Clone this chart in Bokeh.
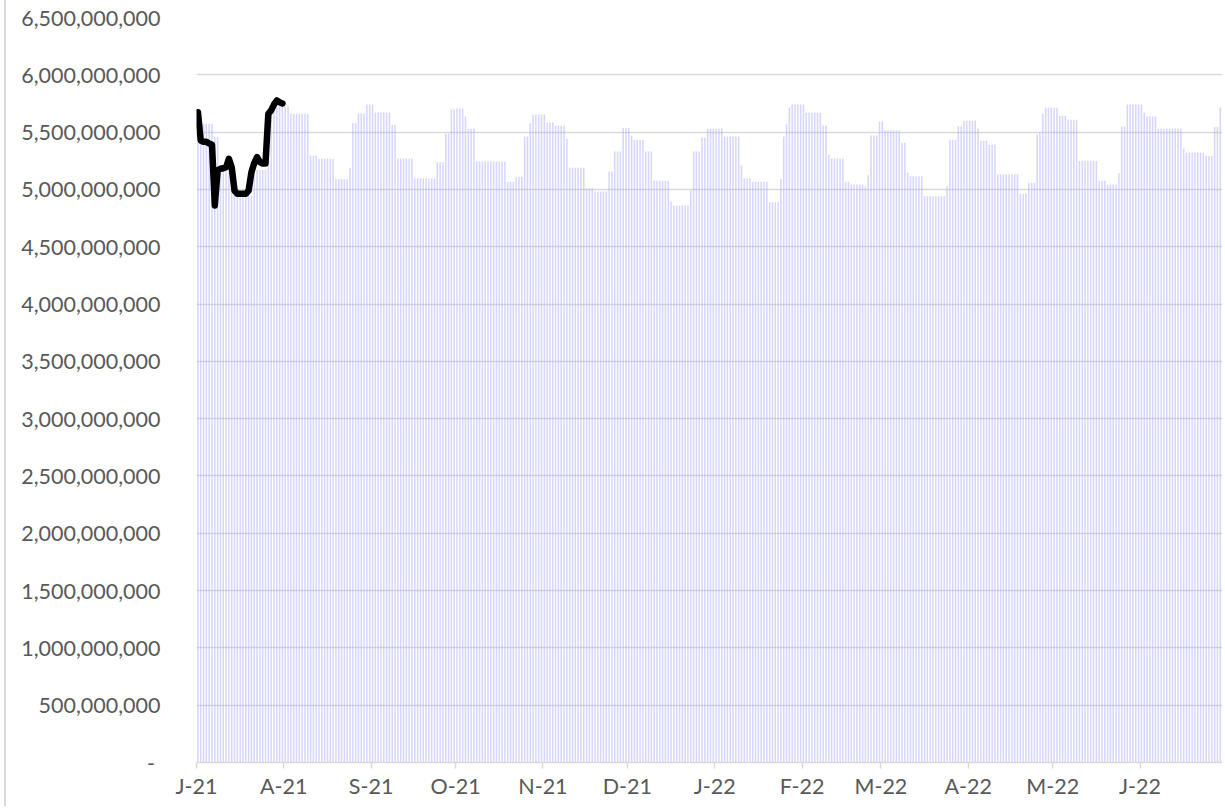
import numpy as np
import pandas as pd
from bokeh.plotting import figure
from bokeh.models import FixedTicker, NumeralTickFormatter, ColumnDataSource
from bokeh.embed import file_html
from bokeh.resources import INLINE

# ---------------- data (values in millions) ----------------
start_date = "2021-07-01"

jul_21 = [5572, 5572, 5572, 5572, 5572, 5572, 5456, 5456, 5190, 5190, 5190, 5190, 5190,
          4945, 4945, 4945, 4945, 4945, 4945, 4945, 5170, 5170, 5170, 5170, 5170,
          5660, 5660, 5724, 5724, 5724, 5724]
aug_21 = [5724, 5724, 5660, 5660, 5660, 5660, 5660, 5660, 5660, 5296, 5296, 5296,
          5267, 5267, 5267, 5267, 5267, 5267, 5089, 5089, 5089, 5089, 5089, 5189,
          5578, 5578, 5662, 5662, 5662, 5741, 5741]
sep_21 = [5741, 5671, 5671, 5671, 5671, 5671, 5671, 5561, 5561, 5270, 5270, 5270,
          5270, 5270, 5270, 5095, 5095, 5095, 5095, 5095, 5095, 5095, 5095, 5238,
          5238, 5238, 5485, 5485, 5700, 5700]
oct_21 = [5706, 5706, 5706, 5636, 5529, 5529, 5529, 5244, 5244, 5244, 5244, 5244,
          5244, 5244, 5244, 5244, 5244, 5244, 5066, 5066, 5066, 5110, 5110, 5110,
          5462, 5462, 5578, 5654, 5654, 5654, 5654]
nov_21 = [5654, 5584, 5584, 5584, 5555, 5555, 5555, 5555, 5442, 5189, 5189, 5189,
          5189, 5189, 5189, 5011, 5011, 5011, 4982, 4982, 4982, 4982, 4982, 5156,
          5156, 5331, 5331, 5331, 5535, 5535]
dec_21 = [5535, 5471, 5433, 5433, 5433, 5433, 5331, 5331, 5331, 5075, 5075, 5075,
          5075, 5075, 5075, 4895, 4860, 4860, 4860, 4860, 4860, 4860, 4991, 5331,
          5331, 5331, 5453, 5453, 5529, 5529, 5529]
jan_22 = [5529, 5529, 5529, 5462, 5462, 5462, 5462, 5462, 5462, 5209, 5098, 5098,
          5098, 5066, 5066, 5066, 5066, 5066, 5066, 4889, 4889, 4889, 4889, 5089,
          5462, 5567, 5715, 5741, 5741, 5741, 5741]
feb_22 = [5741, 5668, 5668, 5668, 5668, 5668, 5668, 5558, 5558, 5302, 5270, 5270,
          5270, 5270, 5270, 5066, 5066, 5043, 5043, 5043, 5043, 5043, 5026, 5124,
          5471, 5471, 5471, 5590]
mar_22 = [5590, 5514, 5514, 5514, 5514, 5514, 5514, 5407, 5407, 5145, 5116, 5116,
          5116, 5116, 5116, 4941, 4941, 4941, 4941, 4941, 4941, 4941, 4941, 5029,
          5433, 5433, 5433, 5552, 5552, 5599, 5599]
apr_22 = [5599, 5599, 5599, 5529, 5424, 5424, 5424, 5389, 5389, 5389, 5133, 5133,
          5133, 5133, 5133, 5133, 5133, 5133, 4962, 4962, 4962, 5058, 5058, 5058,
          5479, 5494, 5660, 5712, 5712, 5712]
may_22 = [5712, 5712, 5642, 5642, 5642, 5607, 5607, 5607, 5607, 5247, 5247, 5247,
          5247, 5247, 5247, 5247, 5075, 5075, 5075, 5043, 5043, 5043, 5043, 5142,
          5549, 5549, 5741, 5741, 5741, 5741, 5741]
jun_22 = [5741, 5668, 5636, 5636, 5636, 5636, 5529, 5529, 5529, 5529, 5529, 5529,
          5529, 5529, 5529, 5354, 5322, 5322, 5322, 5322, 5322, 5322, 5322, 5293,
          5293, 5293, 5546, 5546, 5717, 5717]

line_jul_21 = [5674, 5427, 5415, 5415, 5400, 5390, 4860, 5166, 5180, 5185, 5194, 5267,
               5194, 4990, 4962, 4962, 4962, 4962, 4990, 5150, 5230, 5281, 5238, 5226,
               5226, 5660, 5690, 5740, 5776, 5760, 5750]

month_labels = ["J-21", "A-21", "S-21", "O-21", "N-21", "D-21",
                "J-22", "F-22", "M-22", "A-22", "M-22", "J-22", ""]
y_ticks = [0, 500e6, 1000e6, 1500e6, 2000e6, 2500e6, 3000e6, 3500e6,
           4000e6, 4500e6, 5000e6, 5500e6, 6000e6, 6500e6]

# ---------------- build ----------------
bars_m = (jul_21 + aug_21 + sep_21 + oct_21 + nov_21 + dec_21 +
          jan_22 + feb_22 + mar_22 + apr_22 + may_22 + jun_22)
t0 = pd.Timestamp(start_date)
dates = pd.date_range(t0, periods=len(bars_m), freq="D")
xpos = (dates - t0).days.values + 0.5
bar_src = ColumnDataSource(dict(x=xpos, top=np.array(bars_m) * 1e6))

line_dates = pd.date_range(t0, periods=len(line_jul_21), freq="D")
line_src = ColumnDataSource(dict(x=(line_dates - t0).days.values + 0.5,
                                 y=np.array(line_jul_21) * 1e6))

month_starts = pd.date_range(t0, periods=len(month_labels), freq="MS")
tick_pos = [int(v) for v in (month_starts - t0).days.values]

FONT = "Lato"
TXT = "#595959"
GRID = "#d9d9d9"

p = figure(width=1218, height=806, x_range=(0, tick_pos[-1]), y_range=(0, y_ticks[-1]),
           toolbar_location=None, output_backend="svg",
           min_border_left=190, min_border_right=0, min_border_top=17, min_border_bottom=44)
p.outline_line_color = None
p.background_fill_color = "white"
p.border_fill_color = "white"
p.styles = {"border-left": "2px solid #d9d9d9", "margin-left": "4px"}

p.vbar(x="x", top="top", bottom=0, width=0.55, source=bar_src,
       fill_color="#b0b0f5", fill_alpha=0.52, line_color=None)
p.line(x="x", y="y", source=line_src, line_color="black", line_width=6.5,
       line_join="round", line_cap="round")

# y axis
ya = p.yaxis[0]
ya.ticker = FixedTicker(ticks=y_ticks)
ya.formatter = NumeralTickFormatter(format="0,0")
ya.major_label_overrides = {0: "-\u00a0"}
ya.axis_line_color = None
ya.major_tick_line_color = None
ya.minor_tick_line_color = None
ya.major_label_standoff = 30
ya.major_label_text_font = FONT
ya.major_label_text_font_size = "21.5px"
ya.major_label_text_color = TXT

# x axis
xa = p.xaxis[0]
xa.ticker = FixedTicker(ticks=tick_pos)
xa.major_label_overrides = {tp: lab for tp, lab in zip(tick_pos, month_labels)}
xa.axis_line_color = GRID
xa.axis_line_width = 1.5
xa.major_tick_line_color = GRID
xa.major_tick_line_width = 1.5
xa.major_tick_in = 0
xa.major_tick_out = 6
xa.minor_tick_line_color = None
xa.major_label_standoff = 4
xa.major_label_text_font = FONT
xa.major_label_text_font_size = "21.5px"
xa.major_label_text_color = TXT

p.xgrid.grid_line_color = None
p.ygrid.ticker = FixedTicker(ticks=y_ticks)
p.ygrid.grid_line_color = GRID
p.ygrid.grid_line_width = 1.3

open("out.html", "w").write(file_html(p, INLINE))
